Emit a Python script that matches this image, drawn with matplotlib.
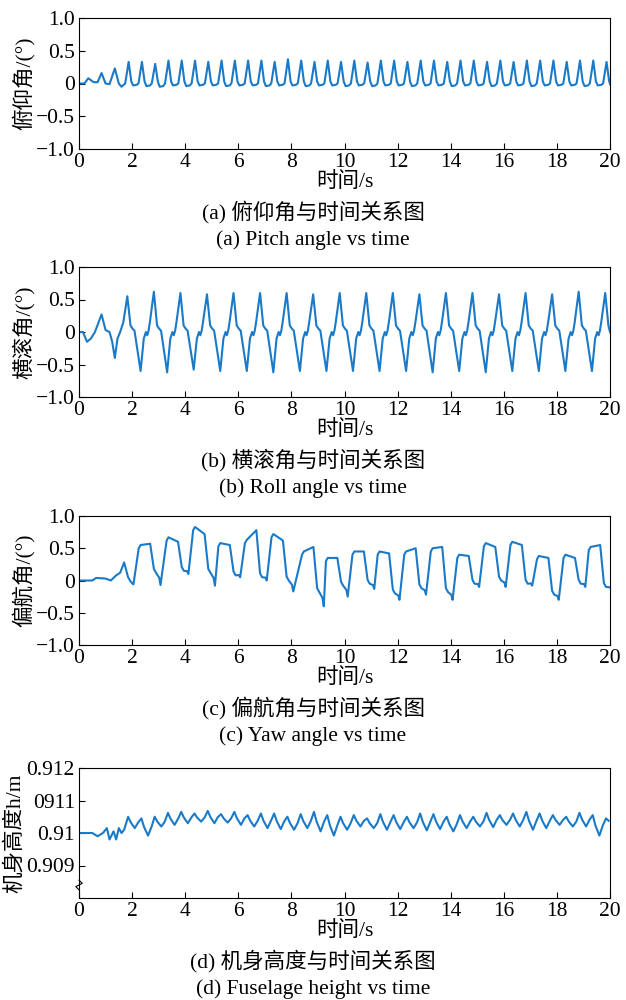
import numpy as np
import matplotlib
matplotlib.use("Agg")
import matplotlib.pyplot as plt

plt.rcParams['font.family'] = ['Liberation Serif', 'Noto Sans CJK SC']
plt.rcParams['axes.unicode_minus'] = True

# ---------- data ----------
pitch_t0 = [0.0, 0.2, 0.35, 0.55, 0.7, 0.85, 1.0, 1.15, 1.35, 1.5, 1.6]
pitch_v0 = [0.0, 0.0, 0.08, 0.02, 0.02, 0.16, 0.0, -0.01, 0.23, 0.0, -0.05]
pitch_peak_times = [1.87 + 0.5 * k for k in range(37)]
pitch_peaks = [0.33, 0.33, 0.30, 0.35, 0.35, 0.35, 0.33, 0.35, 0.35, 0.35, 0.35, 0.33,
               0.37, 0.35, 0.33, 0.35, 0.33, 0.35, 0.32, 0.35, 0.35, 0.33, 0.35, 0.35,
               0.33, 0.35, 0.35, 0.33, 0.35, 0.33, 0.35, 0.35, 0.35, 0.33, 0.35, 0.35, 0.33]
pitch_troughs = [-0.03, -0.04, -0.05, -0.03, -0.04, -0.03, -0.03, -0.04, -0.03, -0.03, -0.04, -0.03,
                 -0.03, -0.04, -0.03, -0.03, -0.04, -0.03, -0.04, -0.03, -0.03, -0.04, -0.03, -0.03,
                 -0.04, -0.03, -0.03, -0.04, -0.03, -0.03, -0.04, -0.03, -0.03, -0.03, -0.04, -0.03, -0.03]

roll_t0 = [0.0, 0.15, 0.3, 0.45, 0.6, 0.85, 1.0, 1.15, 1.25, 1.35, 1.45, 1.55]
roll_v0 = [0.0, 0.0, -0.15, -0.1, 0.0, 0.27, 0.03, 0.0, -0.15, -0.4, -0.1, 0.0]
roll_peak_times = [1.82 + k for k in range(19)]
roll_peaks = [0.55, 0.62, 0.60, 0.58, 0.60, 0.60, 0.60, 0.58, 0.60, 0.60, 0.60, 0.58,
              0.60, 0.60, 0.58, 0.60, 0.58, 0.62, 0.60]
roll_troughs = [-0.60, -0.62, -0.58, -0.60, -0.60, -0.62, -0.60, -0.60, -0.60, -0.60, -0.60, -0.62,
                -0.60, -0.62, -0.60, -0.60, -0.60, -0.60, -0.60]

yaw_t0 = [0.0, 0.5, 0.65, 1.0, 1.2, 1.4, 1.55, 1.7, 1.85, 1.95, 2.05]
yaw_v0 = [0.0, 0.0, 0.04, 0.03, 0.0, 0.08, 0.12, 0.28, 0.05, -0.02, -0.06]
yaw_rise = [2.1, 3.15, 4.15, 5.1, 6.1, 7.1, 8.25, 9.15, 10.15, 11.1, 12.1, 13.1, 14.1, 15.1,
            16.1, 17.1, 18.1, 19.05]
yaw_high1 = [0.55, 0.67, 0.83, 0.58, 0.63, 0.72, 0.45, 0.35, 0.45, 0.45, 0.45, 0.50, 0.40, 0.58,
             0.60, 0.38, 0.40, 0.52]
yaw_high2 = [0.57, 0.60, 0.72, 0.55, 0.78, 0.62, 0.52, 0.35, 0.45, 0.42, 0.50, 0.52, 0.38, 0.52,
             0.55, 0.35, 0.35, 0.55]
yaw_mid = [0.12, 0.15, 0.12, 0.08, 0.05, 0.0, -0.18, -0.08, -0.05, -0.20, -0.12, -0.18, -0.05,
           0.0, -0.05, -0.22, -0.05, -0.10]
yaw_low = [-0.07, 0.10, -0.08, 0.05, 0.0, -0.17, -0.40, -0.25, -0.13, -0.30, -0.22, -0.30, -0.10,
           -0.10, -0.08, -0.30, -0.10, -0.15]

h_t0 = [0.0, 0.3, 0.5, 0.7, 0.9, 1.05, 1.15, 1.3, 1.4, 1.5, 1.6, 1.7]
h_v0 = [0.9100, 0.9100, 0.9100, 0.9099, 0.9100, 0.91015, 0.9098, 0.91005, 0.9098, 0.91015, 0.9100, 0.9101]
h_peak_times = [1.85 + 0.5 * k for k in range(37)]
h_peaks = [0.91050, 0.91045, 0.91050, 0.91062, 0.91065, 0.91060, 0.91068, 0.91058, 0.91065, 0.91055,
           0.91060, 0.91060, 0.91050, 0.91058, 0.91065, 0.91055, 0.91050, 0.91055, 0.91045, 0.91058,
           0.91055, 0.91050, 0.91060, 0.91058, 0.91050, 0.91055, 0.91050, 0.91062, 0.91055, 0.91060,
           0.91065, 0.91060, 0.91055, 0.91050, 0.91062, 0.91055, 0.91045]
h_troughs = [0.91015, 0.90992, 0.91020, 0.91025, 0.91030, 0.91035, 0.91030, 0.91032, 0.91025, 0.91020,
             0.91015, 0.91012, 0.91010, 0.91015, 0.91005, 0.90992, 0.91010, 0.91020, 0.91015, 0.91010,
             0.91012, 0.91015, 0.91008, 0.91012, 0.91005, 0.91015, 0.91020, 0.91018, 0.91025, 0.91020,
             0.91010, 0.91015, 0.91025, 0.91020, 0.91020, 0.90992, 0.91030]

# ---------- build keypoint series ----------
def pitch_series():
    t, v = list(pitch_t0), list(pitch_v0)
    for p, pk, tr in zip(pitch_peak_times, pitch_peaks, pitch_troughs):
        t += [p - 0.13, p, p + 0.1, p + 0.17, p + 0.3]
        v += [0.0, pk, 0.03, tr, tr + 0.01]
    t.append(20.0); v.append(0.0)
    return t, v

def roll_series():
    t, v = list(roll_t0), list(roll_v0)
    for p, pk, tr in zip(roll_peak_times, roll_peaks, roll_troughs):
        t += [p - 0.15, p, p + 0.12, p + 0.2, p + 0.27, p + 0.5, p + 0.62, p + 0.7, p + 0.75, p + 0.8]
        v += [0.15, pk, 0.1, 0.05, 0.02, tr, -0.1, 0.0, -0.05, 0.02]
    t = [x for x in t if x <= 20.0]; v = v[:len(t)]
    t.append(20.0); v.append(0.0)
    return t, v

def yaw_series():
    t, v = list(yaw_t0), list(yaw_v0)
    for r, h1, h2, m, lo in zip(yaw_rise, yaw_high1, yaw_high2, yaw_mid, yaw_low):
        t += [r + 0.15, r + 0.22, r + 0.4, r + 0.58, r + 0.72, r + 0.8, r + 0.92, r + 0.97]
        v += [h1 - 0.05, h1, (h1 + h2) / 2, h2, m + 0.06, m, (m + lo) / 2 + 0.02, lo]
    t = [x for x in t if x <= 20.0]; v = v[:len(t)]
    return t, v

def h_series():
    t, v = list(h_t0), list(h_v0)
    for p, pk, tr in zip(h_peak_times, h_peaks, h_troughs):
        t += [p, p + 0.1, p + 0.25, p + 0.38]
        v += [pk, (pk + tr) / 2, tr, (pk + tr) / 2]
    t = [x for x in t if x <= 20.0]; v = v[:len(t)]
    return t, v

# ---------- drawing ----------
W, H = 626, 1000
fig = plt.figure(figsize=(W / 100, H / 100), dpi=100)
col = '#1a7ac8'
fs = 15.5

def add_ax(top, bottom):
    return fig.add_axes([79 / W, 1 - bottom / H, (610 - 79) / W, (bottom - top) / H])

panels = [
    (18, 149, pitch_series, '俯仰角/(°)', '(a) 俯仰角与时间关系图', '(a) Pitch angle vs time'),
    (267, 397, roll_series, '横滚角/(°)', '(b) 横滚角与时间关系图', '(b) Roll angle vs time'),
    (516, 645, yaw_series, '偏航角/(°)', '(c) 偏航角与时间关系图', '(c) Yaw angle vs time'),
    (768, 898, h_series, '机身高度h/m', '(d) 机身高度与时间关系图', '(d) Fuselage height vs time'),
]

for i, (top, bot, fn, ylab, cap1, cap2) in enumerate(panels):
    ax = add_ax(top, bot)
    t, v = fn()
    ax.plot(t, v, color=col, lw=1.5)
    ax.set_xlim(0, 20)
    ax.set_xticks(range(0, 21, 2))
    if i < 3:
        ax.set_ylim(-1, 1)
        ax.set_yticks([-1, -0.5, 0, 0.5, 1])
        ax.set_yticklabels(['\u22121.0', '\u22120.5', '0', '0.5', '1.0'])
    else:
        ax.set_ylim(0.908, 0.912)
        ax.set_yticks([0.909, 0.910, 0.911, 0.912])
        ax.set_yticklabels(['0.909', '0.91', '0911', '0.912'])
        ax.plot([0, 0.12, -0.12, 0.0], [0.90855, 0.90845, 0.90835, 0.90825],
                color='k', lw=0.8, clip_on=False)
    ax.tick_params(direction='in', labelsize=fs, length=4, width=0.8, pad=3)
    for s in ax.spines.values():
        s.set_linewidth(0.8)
    ax.set_ylabel(ylab, fontsize=fs, labelpad=1)
    ax.set_xlabel('时间/s', fontsize=fs, labelpad=0)
    fig.text(0.5, 1 - (bot + 63) / H, cap1, ha='center', va='center', fontsize=fs)
    fig.text(0.5, 1 - (bot + 91) / H, cap2, ha='center', va='center', fontsize=fs)

fig.savefig('out.png', dpi=100)
